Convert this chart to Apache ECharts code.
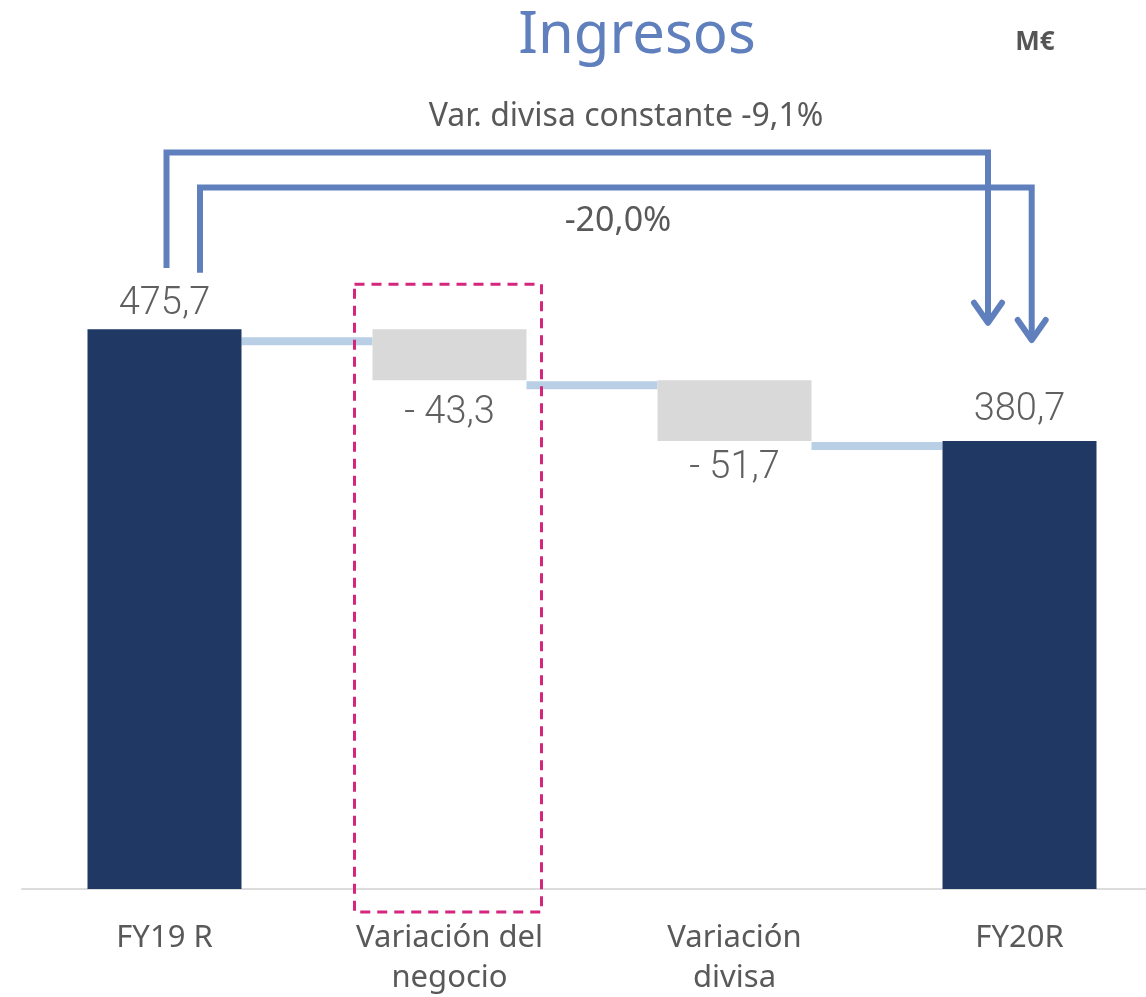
<!DOCTYPE html>
<html>
<head>
<meta charset="utf-8">
<title>Ingresos</title>
<script src="https://cdn.jsdelivr.net/npm/echarts@6/dist/echarts.min.js"></script>
<style>
  html, body { margin: 0; padding: 0; background: #fff; }
  #chart { width: 1146px; height: 997px; }
</style>
</head>
<body>
<div id="chart"></div>
<script>
// Ingresos - puente FY19 R -> FY20R (M€)

const categories = ['FY19 R', 'Variación del\nnegocio', 'Variación\ndivisa', 'FY20R'];
const values = [475.7, -43.3, -51.7, 380.7];
const kinds = ['total', 'delta', 'delta', 'total'];
const valueLabels = ['475,7', '- 43,3', '- 51,7', '380,7'];
// nivel de las líneas conectoras entre barras
const connectorLevels = [465.6, 428.2, 376.4];
// flechas: [nivel inicio, nivel tramo horizontal, nivel punta]
const bracketLevels = [[527.8, 625.9, 481.2], [523.8, 596.1, 466.6]];
const bracketTexts = ['Var. divisa constante -9,1%', '-20,0%'];
// recuadro discontinuo: [categoría, nivel superior, nivel inferior]
const highlightBox = [[1, 514, -19.5]];

const NAVY = '#203864';
const GREY = '#d9d9d9';
const LINK = '#b8cfe6';
const ARROW = '#6080bd';
const PINK = '#d4267c';
const TEXT = '#595959';
const BAR_W = 154;

// bases del waterfall
let running = 0;
const base = [], height = [];
values.forEach((v, i) => {
  if (kinds[i] === 'total') {
    base.push(0); height.push(v); running = v;
  } else {
    running += v; base.push(running); height.push(-v);
  }
});

const chart = echarts.init(document.getElementById('chart'));

function renderConnector(params, api) {
  const i = api.value(0), lvl = api.value(1);
  const p0 = api.coord([i, lvl]);
  const p1 = api.coord([i + 1, lvl]);
  return {
    type: 'line',
    shape: { x1: p0[0] + BAR_W / 2, y1: p0[1], x2: p1[0] - BAR_W / 2, y2: p0[1] },
    style: { stroke: LINK, lineWidth: 8 },
  };
}

// desplazamientos horizontales de cada flecha respecto al centro de la categoría
const bracketOffsets = [[2, -31.5], [35.5, 12.2]];

function renderBracket(params, api) {
  const idx = params.dataIndex;
  const off = bracketOffsets[idx];
  const a = api.coord([0, api.value(0)]);
  const top = api.coord([0, api.value(1)]);
  const tip = api.coord([3, api.value(2)]);
  const x0 = a[0] + off[0];
  const x1 = tip[0] + off[1];
  const style = { stroke: ARROW, lineWidth: 6, fill: null, lineJoin: 'miter' };
  return {
    type: 'group',
    children: [
      { type: 'polyline', shape: { points: [[x0, a[1]], [x0, top[1]], [x1, top[1]], [x1, tip[1] - 2]] }, style },
      { type: 'polyline', shape: { points: [[x1 - 14, tip[1] - 20], [x1, tip[1]], [x1 + 14, tip[1] - 20]] },
        style: { stroke: ARROW, lineWidth: 6, fill: null, lineCap: 'round', lineJoin: 'round' } },
    ],
  };
}

function renderBox(params, api) {
  const c = api.value(0);
  const t = api.coord([c, api.value(1)]);
  const b = api.coord([c, api.value(2)]);
  return {
    type: 'rect',
    shape: { x: t[0] - 95, y: t[1], width: 187, height: b[1] - t[1] },
    style: { stroke: PINK, lineWidth: 3, fill: null, lineDash: [10, 7] },
    z2: 5,
  };
}

const valueFont = { fontFamily: 'Roboto', fontWeight: 300, fontSize: 38, color: '#606060' };

chart.setOption({
  animation: false,
  backgroundColor: '#fff',
  grid: { left: 22, width: 1140, top: 183, height: 706, outerBoundsMode: 'none', containLabel: false },
  graphic: [
    { type: 'text', x: 637, y: 36, style: { text: 'Ingresos', fill: ARROW, font: '58px "Noto Sans"', textAlign: 'center', textVerticalAlign: 'middle' } },
    { type: 'text', x: 1035, y: 43, style: { text: 'M€', fill: '#555', font: 'bold 26px "Noto Sans"', textAlign: 'center', textVerticalAlign: 'middle' } },
    { type: 'text', x: 626, y: 117, style: { text: bracketTexts[0], fill: TEXT, font: '32px "Noto Sans"', textAlign: 'center', textVerticalAlign: 'middle' } },
    { type: 'text', x: 618, y: 221, style: { text: bracketTexts[1], fill: TEXT, font: '34px "Noto Sans"', textAlign: 'center', textVerticalAlign: 'middle' } },
  ],
  xAxis: {
    type: 'category',
    data: categories,
    axisLine: { lineStyle: { color: '#dcdcdc', width: 2 } },
    axisTick: { show: false },
    axisLabel: { color: TEXT, fontSize: 31, lineHeight: 40, margin: 29, fontFamily: 'Noto Sans' },
  },
  yAxis: {
    type: 'value', min: 0, max: 600, show: false,
    splitLine: { show: false },
  },
  series: [
    {
      name: 'base', type: 'bar', stack: 'w', barWidth: BAR_W,
      itemStyle: { color: 'transparent' },
      data: base,
      silent: true,
    },
    {
      name: 'valor', type: 'bar', stack: 'w', barWidth: BAR_W,
      data: height.map((h, i) => ({
        value: h,
        itemStyle: { color: kinds[i] === 'total' ? NAVY : GREY },
        label: Object.assign({
          show: true,
          position: kinds[i] === 'total' ? 'top' : 'bottom',
          distance: [6, 14, 8, 12][i],
          formatter: valueLabels[i],
        }, valueFont),
      })),
    },
    {
      name: 'conector', type: 'custom',
      renderItem: renderConnector,
      data: connectorLevels.map((l, i) => [i, l]),
      z: 1,
    },
    {
      name: 'recuadro', type: 'custom',
      renderItem: renderBox,
      clip: false,
      data: highlightBox,
      z: 5,
    },
    {
      name: 'flechas', type: 'custom',
      renderItem: renderBracket,
      clip: false,
      data: bracketLevels,
      z: 6,
    },
  ],
});
</script>
</body>
</html>
